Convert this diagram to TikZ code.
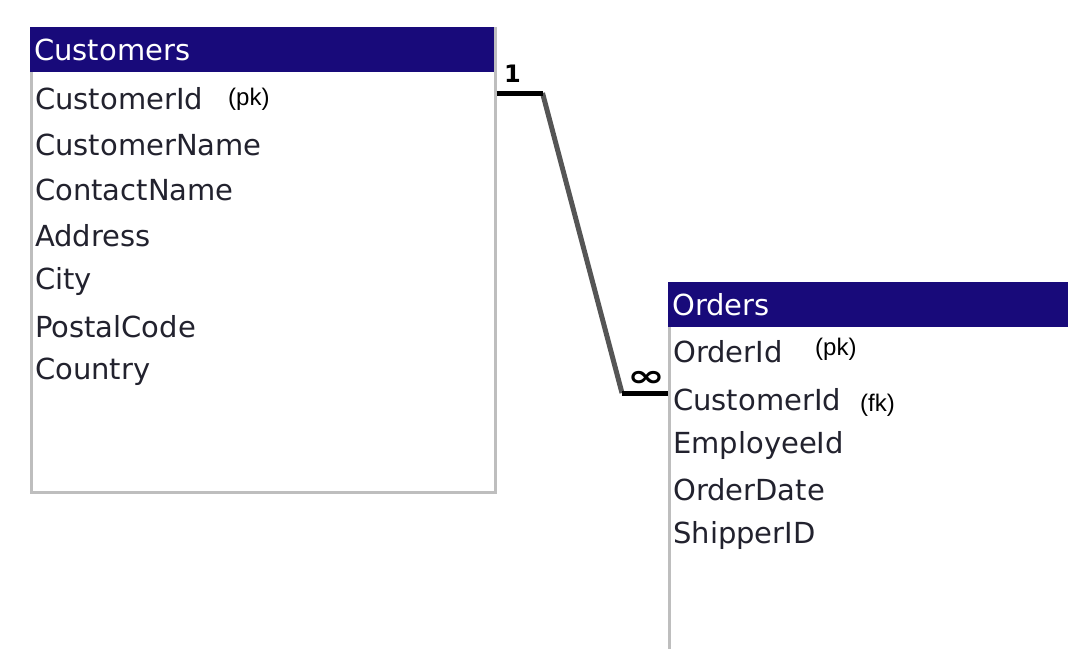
\documentclass[tikz,border=0pt]{standalone}
\usepackage{fontspec}
\setmainfont{DejaVu Sans}
\newfontfamily\tagfont{Liberation Sans}
\usepackage{tikz}
\usetikzlibrary{positioning}
\definecolor{hdrblue}{RGB}{24,10,122}
\definecolor{rimgray}{RGB}{190,190,190}
\definecolor{linkgray}{RGB}{85,85,85}
\definecolor{fieldink}{RGB}{34,34,46}

\begin{document}
\begin{tikzpicture}[
    x=1pt, y=-1pt,
    tablebox/.style={draw=rimgray, line width=2.5pt, fill=white, anchor=north west, inner sep=0pt},
    header/.style={fill=hdrblue, text=white, anchor=north west, minimum height=45, inner sep=4pt,
                   font=\fontsize{29}{34}\selectfont, align=left},
    field/.style={anchor=west, inner sep=0pt, text=fieldink, font=\fontsize{29}{34}\selectfont},
    keytag/.style={anchor=west, inner sep=0pt, font=\tagfont\fontsize{24}{28}\selectfont},
    endbar/.style={line width=5pt, black},
    relline/.style={line width=5pt, linkgray},
    card/.style={inner sep=0pt, font=\bfseries\fontsize{24}{26}\selectfont}
]
   \clip (0,0) rectangle (1068,648);

   % Customers table
   \node[tablebox, minimum width=464, minimum height=464] (custbox) at (30,27) {};
   \node[header, minimum width=464, text width=456] (cust) at (30,27) {Customers};
   \foreach \f [count=\i] in {CustomerId, CustomerName, ContactName, Address, City, PostalCode, Country}
      \node[field] (c\i) at (35, 99 + 45.5*\i - 45.5) {\f};
   \node[keytag] (cpk) at (228,99) {(pk)};

   % Orders table
   \node[tablebox, minimum width=440, minimum height=400] (ordbox) at (668,282) {};
   \node[header, minimum width=440, text width=432] (ord) at (668,282) {Orders};
   \node[field] (o1) at (673,352) {OrderId};
   \node[field] (o2) at (673,400) {CustomerId};
   \node[field] (o3) at (673,445) {EmployeeId};
   \node[field] (o4) at (673,490) {OrderDate};
   \node[field] (o5) at (673,535) {ShipperID};
   \node[keytag] (opk) at (815,349) {(pk)};
   \node[keytag] (ofk) at (860,405) {(fk)};

   % Relationship
   \coordinate (p1) at ([yshift=6]custbox.east |- c1);
   \coordinate (p2) at ([xshift=46]p1);
   \coordinate (p4) at ([yshift=7]ordbox.west |- o2);
   \coordinate (p3) at ([xshift=-46]p4);
   \draw[relline] (p2) -- (p3);
   \draw[endbar] (p1) -- (p2);
   \draw[endbar] (p3) -- (p4);
   \node[card] (one) at ([xshift=16,yshift=19]p1) {1};
   \node[card, xscale=1.5, font=\bfseries\fontsize{30}{30}\selectfont] (many) at ([xshift=24,yshift=14]p3) {∞};
\end{tikzpicture}
\end{document}
